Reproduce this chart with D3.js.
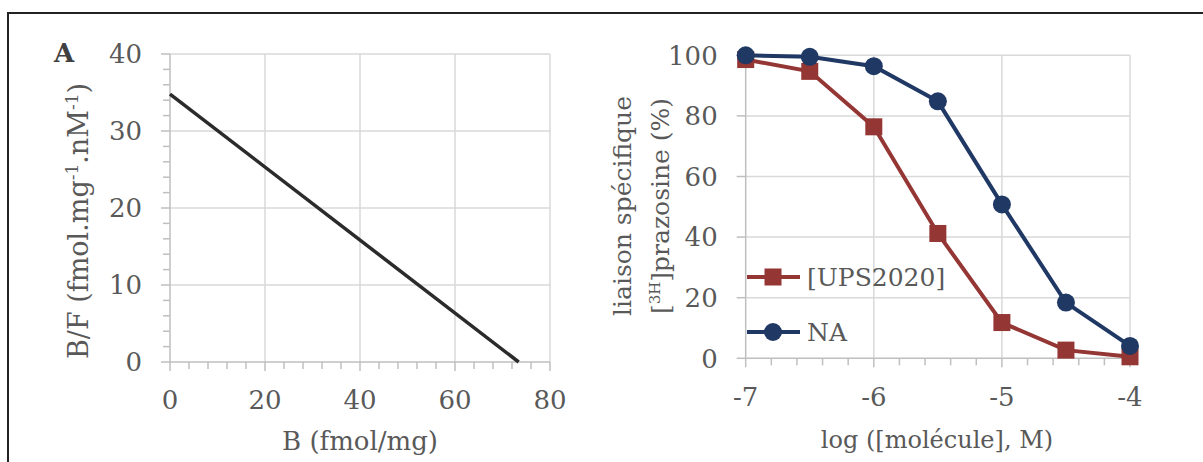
<!DOCTYPE html>
<html>
<head>
<meta charset="utf-8">
<script src="https://cdn.jsdelivr.net/npm/d3@7"></script>
<style>
  body { margin: 0; background: #fff; }
  text { font-family: "DejaVu Serif", serif; fill: #595959; }
</style>
</head>
<body>
<svg id="fig" width="1203" height="462"></svg>
<script>
// panel A : Scatchard line
const scatB = [0, 73.4];
const scatBF = [34.8, 0];

// panel B : competition curves
const logConc = [-7, -6.5, -6, -5.5, -5, -4.5, -4];
const upsValues = [98.6, 94.7, 76.4, 41.2, 11.8, 2.7, 0.5];
const naValues = [100, 99.5, 96.4, 84.8, 50.8, 18.4, 4.1];

const xTicksA = [0, 20, 40, 60, 80];
const yTicksA = [0, 10, 20, 30, 40];
const xTicksB = [-7, -6, -5, -4];
const yTicksB = [0, 20, 40, 60, 80, 100];

const red = '#943634';
const navy = '#203864';
const gridCol = '#d9d9d9';
const axisCol = '#bfbfbf';

const svg = d3.select('#fig');

// frame
svg.append('rect')
  .attr('x', 8).attr('y', 13)
  .attr('width', 1210).attr('height', 470)
  .attr('fill', 'none')
  .attr('stroke', '#222')
  .attr('stroke-width', 2);

function drawFrame(x, y, xTicks, yTicks, xMinor, yMinor, xGrid, xLabY) {
  const g = svg.append('g');
  const [x0, x1] = x.range();
  const [y0, y1] = y.range();

  // gridlines
  g.selectAll('.hg').data(yTicks.filter(d => d !== y.domain()[0]))
    .enter().append('line')
    .attr('x1', x0).attr('x2', x1)
    .attr('y1', d => y(d)).attr('y2', d => y(d))
    .attr('stroke', gridCol).attr('stroke-width', 1.5);
  g.selectAll('.vg').data(xGrid)
    .enter().append('line')
    .attr('y1', y0).attr('y2', y1)
    .attr('x1', d => x(d)).attr('x2', d => x(d))
    .attr('stroke', gridCol).attr('stroke-width', 1.5);

  // minor ticks
  g.selectAll('.xm').data(xMinor)
    .enter().append('line')
    .attr('x1', d => x(d)).attr('x2', d => x(d))
    .attr('y1', y0).attr('y2', y0 + 7)
    .attr('stroke', axisCol).attr('stroke-width', 1.5);
  g.selectAll('.ym').data(yMinor)
    .enter().append('line')
    .attr('y1', d => y(d)).attr('y2', d => y(d))
    .attr('x1', x0 - 7).attr('x2', x0)
    .attr('stroke', axisCol).attr('stroke-width', 1.5);

  // major ticks
  g.selectAll('.xt').data(xTicks)
    .enter().append('line')
    .attr('x1', d => x(d)).attr('x2', d => x(d))
    .attr('y1', y0).attr('y2', y0 + 9)
    .attr('stroke', axisCol).attr('stroke-width', 1.5);
  g.selectAll('.yt').data(yTicks)
    .enter().append('line')
    .attr('y1', d => y(d)).attr('y2', d => y(d))
    .attr('x1', x0 - 9).attr('x2', x0)
    .attr('stroke', axisCol).attr('stroke-width', 1.5);

  // axis lines
  g.append('line').attr('x1', x0).attr('x2', x1).attr('y1', y0).attr('y2', y0)
    .attr('stroke', axisCol).attr('stroke-width', 1.5);
  g.append('line').attr('x1', x0).attr('x2', x0).attr('y1', y0).attr('y2', y1)
    .attr('stroke', axisCol).attr('stroke-width', 1.5);

  // tick labels
  g.selectAll('.xl').data(xTicks)
    .enter().append('text')
    .attr('x', d => x(d)).attr('y', xLabY)
    .attr('text-anchor', 'middle')
    .attr('font-size', 26)
    .text(d => d);
  g.selectAll('.yl').data(yTicks)
    .enter().append('text')
    .attr('x', x0 - 28).attr('y', d => y(d))
    .attr('dy', '0.36em')
    .attr('text-anchor', 'end')
    .attr('font-size', 26)
    .text(d => d);
  return g;
}

// ---------- panel A ----------
const xA = d3.scaleLinear().domain([0, 80]).range([170, 550]);
const yA = d3.scaleLinear().domain([0, 40]).range([362, 54]);

drawFrame(xA, yA, xTicksA, yTicksA,
  d3.range(0, 81, 4).filter(d => d % 20),
  d3.range(0, 41, 2).filter(d => d % 10),
  [20, 40, 60, 80], 409);

svg.append('path')
  .datum(scatB.map((b, i) => [b, scatBF[i]]))
  .attr('d', d3.line().x(d => xA(d[0])).y(d => yA(d[1])))
  .attr('fill', 'none')
  .attr('stroke', '#2b2b2b')
  .attr('stroke-width', 3.5);

svg.append('text')
  .attr('x', 54).attr('y', 62)
  .attr('font-size', 26)
  .attr('font-weight', 'bold')
  .style('fill', '#404040')
  .text('A');

svg.append('text')
  .attr('x', 360).attr('y', 450)
  .attr('text-anchor', 'middle')
  .attr('font-size', 26)
  .text('B (fmol/mg)');

const ytA = svg.append('text')
  .attr('transform', 'translate(88,221) rotate(-90)')
  .attr('text-anchor', 'middle')
  .attr('font-size', 27);
ytA.append('tspan').text('B/F (fmol.mg');
ytA.append('tspan').attr('baseline-shift', 'super').attr('font-size', 17).text('-1');
ytA.append('tspan').text('.nM');
ytA.append('tspan').attr('baseline-shift', 'super').attr('font-size', 17).text('-1');
ytA.append('tspan').text(')');

// ---------- panel B ----------
const xB = d3.scaleLinear().domain([-7, -4]).range([745.7, 1130]);
const yB = d3.scaleLinear().domain([0, 100]).range([358.3, 55.3]);

drawFrame(xB, yB, xTicksB, yTicksB,
  d3.range(-7, -4.0001, 0.2).map(d => +d.toFixed(1)).filter(d => !Number.isInteger(d)),
  [],
  [-6, -5, -4], 406);

const lineB = d3.line().x((d, i) => xB(logConc[i])).y(d => yB(d));

svg.append('path').datum(upsValues)
  .attr('d', lineB).attr('fill', 'none')
  .attr('stroke', red).attr('stroke-width', 4);
svg.append('path').datum(naValues)
  .attr('d', lineB).attr('fill', 'none')
  .attr('stroke', navy).attr('stroke-width', 4);

svg.selectAll('.sq').data(upsValues).enter().append('rect')
  .attr('x', (d, i) => xB(logConc[i]) - 8.5)
  .attr('y', d => yB(d) - 8.5)
  .attr('width', 17).attr('height', 17)
  .attr('fill', red);
svg.selectAll('.ci').data(naValues).enter().append('circle')
  .attr('cx', (d, i) => xB(logConc[i]))
  .attr('cy', d => yB(d))
  .attr('r', 9)
  .attr('fill', navy);

svg.append('text')
  .attr('x', 937).attr('y', 448)
  .attr('text-anchor', 'middle')
  .attr('font-size', 24)
  .text('log ([molécule], M)');

const ytB = svg.append('text')
  .attr('transform', 'translate(0,206) rotate(-90)')
  .attr('text-anchor', 'middle')
  .attr('font-size', 25);
ytB.append('tspan').attr('x', 0).attr('y', 631).text('liaison spécifique');
const l2 = ytB.append('tspan').attr('x', 0).attr('y', 669);
l2.append('tspan').text('[');
l2.append('tspan').attr('baseline-shift', 'super').attr('font-size', 15).text('3H');
l2.append('tspan').text(']prazosine (%)');

// legend
const legend = [
  { name: '[UPS2020]', color: red, shape: 'square', y: 277 },
  { name: 'NA', color: navy, shape: 'circle', y: 332 }
];
const lg = svg.selectAll('.lg').data(legend).enter().append('g');
lg.append('line')
  .attr('x1', 747).attr('x2', 800)
  .attr('y1', d => d.y).attr('y2', d => d.y)
  .attr('stroke', d => d.color).attr('stroke-width', 4);
lg.filter(d => d.shape === 'square').append('rect')
  .attr('x', 773 - 8.5).attr('y', d => d.y - 8.5)
  .attr('width', 17).attr('height', 17)
  .attr('fill', d => d.color);
lg.filter(d => d.shape === 'circle').append('circle')
  .attr('cx', 773).attr('cy', d => d.y).attr('r', 9)
  .attr('fill', d => d.color);
lg.append('text')
  .attr('x', 807).attr('y', d => d.y)
  .attr('dy', '0.36em')
  .attr('font-size', 25)
  .text(d => d.name);
</script>
</body>
</html>
